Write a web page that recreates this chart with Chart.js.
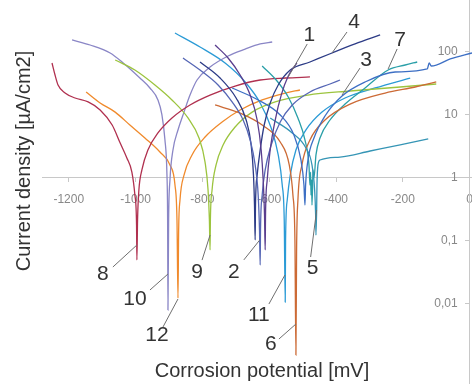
<!DOCTYPE html>
<html>
<head>
<meta charset="utf-8">
<script src="https://cdn.jsdelivr.net/npm/chart.js@4.4.1/dist/chart.umd.min.js"></script>
<style>
  html, body { margin: 0; padding: 0; background: #fff; overflow: hidden; }
  canvas { display: block; }
</style>
</head>
<body>
<canvas id="chart" width="472" height="384"></canvas>
<script>
// Potentiodynamic polarisation curves: [potential mV, current density µA/cm2]
const curve1  = [[-762,129],[-723,80.2],[-687,43.1],[-657,20.7],[-636,8.32],[-624,2.78],[-618,0.929],[-614,0.259],[-612,0.072],[-611,0.259],[-606,0.929],[-597,2.78],[-582,8.32],[-564,20.7],[-543,41.6],[-517,66.8]];
const curve2  = [[-858,80.2],[-807,51.7],[-753,29.9],[-711,16.1],[-678,8.32],[-657,4.01],[-642,1.61],[-633,0.537],[-629,0.149],[-627,0.0416],[-626,0.149],[-621,0.537],[-612,1.34],[-594,3.34],[-567,7.74],[-531,14.4],[-478,23.2],[-418,31.0],[-388,35.9]];
const curve3  = [[-711,26.8],[-633,17.3],[-567,10.0],[-526,4.81],[-505,1.93],[-496,0.774],[-493,0.372],[-491,0.774],[-484,1.93],[-466,4.31],[-433,9.63],[-382,20.0],[-313,33.4],[-223,48.1],[-127,53.7],[-121,66.8],[-115,59.9],[-58,77.4],[7,96.3]];
const curve4  = [[-807,69.3],[-747,38.6],[-699,18.6],[-669,8.32],[-654,3.34],[-647,1.11],[-644,0.372],[-642,0.104],[-641,0.372],[-636,1.11],[-627,2.78],[-615,6.93],[-597,15.5],[-573,29.9],[-537,51.7],[-478,69.3],[-412,96.3],[-343,134],[-268,186]];
const curve5  = [[-597,8.96],[-531,5.18],[-490,2.99],[-472,1.61],[-464,0.644],[-461,0.259],[-460,0.124],[-458,0.310],[-457,0.774],[-454,1.61],[-448,1.93],[-388,2.15],[-298,2.68],[-208,3.34],[-124,4.16]];
const curve6  = [[-762,14.4],[-687,10.7],[-621,6.93],[-567,3.72],[-540,1.61],[-529,0.537],[-523,0.104],[-520,0.00155],[-518,0.072],[-514,0.447],[-502,1.61],[-478,4.01],[-433,8.32],[-358,14.9],[-253,22.3],[-163,27.8],[-100,33.4]];
const curve7  = [[-621,59.9],[-579,35.9],[-543,19.3],[-514,8.96],[-493,4.01],[-481,1.61],[-478,0.774],[-476,1.24],[-475,0.537],[-473,0.929],[-472,0.372],[-470,0.774],[-469,1.34],[-466,1.0],[-460,2.32],[-448,4.31],[-418,8.32],[-373,14.9],[-313,26.8],[-244,51.7],[-193,62.1],[-157,69.3]];
const curve8  = [[-1250,66.8],[-1241,43.1],[-1232,29.9],[-1211,22.3],[-1181,18.6],[-1142,16.1],[-1106,12.0],[-1070,6.93],[-1046,3.59],[-1026,2.08],[-1011,1.24],[-1002,0.537],[-997,0.179],[-996,0.05],[-994,0.215],[-990,0.644],[-981,1.34],[-963,2.78],[-933,5.18],[-891,8.96],[-837,14.4],[-777,20.7],[-702,28.8],[-627,35.9],[-552,38.6],[-478,40.1]];
const curve9  = [[-1061,74.6],[-1002,51.7],[-942,29.9],[-891,17.3],[-843,8.96],[-810,4.31],[-792,1.79],[-783,0.644],[-779,0.215],[-777,0.072],[-776,0.215],[-771,0.644],[-759,1.61],[-738,3.34],[-702,6.44],[-651,11.1],[-582,16.1],[-484,20.7],[-358,24.0],[-208,27.8],[-100,31.0]];
const curve10 = [[-1190,155],[-1136,129],[-1076,96.3],[-1037,66.8],[-987,38.6],[-957,26.8],[-933,17.3],[-921,10.0],[-912,4.01],[-906,1.11],[-904,0.215],[-903,0.008],[-901,0.215],[-897,0.929],[-888,2.78],[-873,5.78],[-855,11.1],[-837,20.7],[-816,35.9],[-777,57.7],[-723,86.3],[-672,111],[-627,134],[-591,144]];
const curve11 = [[-882,200],[-807,120],[-732,66.8],[-672,33.4],[-627,15.5],[-594,6.21],[-573,2.32],[-561,0.774],[-555,0.215],[-552,0.0107],[-551,0.104],[-546,0.447],[-537,1.11],[-520,2.78],[-490,5.78],[-442,11.1],[-373,18.6],[-283,26.8],[-178,38.6]];
const curve12 = [[-1148,23.2],[-1106,15.5],[-1061,11.1],[-1017,6.93],[-972,4.31],[-927,2.58],[-897,1.61],[-882,0.774],[-876,0.215],[-873,0.0124],[-871,0.149],[-867,0.447],[-855,1.11],[-831,2.32],[-792,4.47],[-741,7.74],[-687,12.0],[-621,17.3],[-552,22.3],[-508,24.9]];

const curveNames = ['1','2','3','4','5','6','7','8','9','10','11','12'];
const curves = [curve1, curve2, curve3, curve4, curve5, curve6, curve7, curve8, curve9, curve10, curve11, curve12];

// Axis ticks
const xTickValues = [-1200, -1000, -800, -600, -400, -200, 0];
const xTickLabels = ['-1200', '-1000', '-800', '-600', '-400', '-200', '0'];
const yTickValues = [100, 10, 1, 0.1, 0.01];
const yTickLabels = ['100', '10', '1', '0,1', '0,01'];

// Curve numbers: the point on each curve the callout line points to
const calloutLabels    = ['1', '4', '3', '7', '8', '10', '12', '9', '2', '11', '6', '5'];
const calloutPotential = [-543, -412, -382, -244, -996, -903, -873, -777, -628, -553, -520, -458];
const calloutCurrent   = [40.1, 96.3, 20.7, 53.7, 0.0863, 0.0299, 0.012, 0.124, 0.104, 0.0288, 0.00481, 0.31];

// Styling
const curveColors = ['#5a3e8e', '#5566b5', '#3d6fc4', '#2c3b86', '#3595b5', '#cc6a35',
                     '#2a9fa8', '#b0304f', '#9cc43e', '#8a86c6', '#2b9bd6', '#f08a2c'];
// [text dx, text dy, line start dx, line start dy] relative to the callout point
const calloutOffsets = [
  [21, -42, 19, -33], [22, -31, 15, -21], [24, -35, 18, -27], [12, -29, 9, -20],
  [-34, 29, -24, 22], [-33, 25, -18, 16], [-21, 36, -15, 28], [-13, 37, -8, 25],
  [-26, 32, -16, 20], [-26, 40, -16, 29], [-25, 20, -17, 15], [-4, 58, -6, 47]
];

const FONT = '"Liberation Sans", Arial, sans-serif';
Chart.defaults.font.family = FONT;

const datasets = curves.map((c, k) => ({
  label: curveNames[k],
  data: c.map(([e, i]) => ({ x: e, y: i })),
  borderColor: curveColors[k],
  borderWidth: 1.3,
  pointRadius: 0,
  fill: false,
  cubicInterpolationMode: 'monotone'
}));

// axes cross inside the plot, so their label overhang must not shrink it
const noOverhang = s => { s.paddingLeft = 0; s.paddingRight = 0; s.paddingTop = 0; s.paddingBottom = 0; };

const overlay = {
  id: 'overlay',
  afterDatasetsDraw(chart) {
    const { ctx, scales: { x, y } } = chart;
    ctx.save();

    // current density labels, left of the vertical axis at 0 mV
    const axisX = x.getPixelForValue(0);
    ctx.fillStyle = '#888';
    ctx.font = '12px ' + FONT;
    ctx.textAlign = 'right';
    ctx.textBaseline = 'middle';
    yTickValues.forEach((v, k) => ctx.fillText(yTickLabels[k], axisX - 12, y.getPixelForValue(v)));

    calloutLabels.forEach((txt, k) => {
      const px = x.getPixelForValue(calloutPotential[k]);
      const py = y.getPixelForValue(calloutCurrent[k]);
      const [tx, ty, sx, sy] = calloutOffsets[k];
      ctx.strokeStyle = '#6f6f6f';
      ctx.lineWidth = 1;
      ctx.beginPath();
      ctx.moveTo(px + sx, py + sy);
      ctx.lineTo(px, py);
      ctx.stroke();
      ctx.fillStyle = '#333';
      ctx.font = '21px ' + FONT;
      ctx.textAlign = 'center';
      ctx.textBaseline = 'middle';
      ctx.fillText(txt, px + tx, py + ty);
    });

    // axis titles
    ctx.fillStyle = '#333';
    ctx.font = '20px ' + FONT;
    ctx.textAlign = 'center';
    ctx.textBaseline = 'alphabetic';
    ctx.fillText('Corrosion potential [mV]', 262, 377);
    ctx.translate(30, 161);
    ctx.rotate(-Math.PI / 2);
    ctx.fillText('Current density [µA/cm2]', 0, 0);
    ctx.restore();
  }
};

new Chart(document.getElementById('chart'), {
  type: 'line',
  data: { datasets },
  plugins: [overlay],
  options: {
    responsive: false,
    animation: false,
    layout: { padding: { left: 42, right: 0, top: 0, bottom: 0 } },
    plugins: { legend: { display: false }, tooltip: { enabled: false } },
    scales: {
      x: {
        type: 'linear', axis: 'x',
        min: -1280, max: 7,
        position: { y: 1 },
        grid: { drawOnChartArea: false, color: '#c8c8c8', tickLength: 4 },
        border: { color: '#c8c8c8' },
        afterBuildTicks: s => { s.ticks = xTickValues.map(v => ({ value: v })); },
        afterFit: noOverhang,
        ticks: {
          color: '#888', font: { size: 12 }, padding: 11, maxRotation: 0,
          callback: (v, idx) => xTickLabels[idx]
        }
      },
      y: {
        type: 'logarithmic', axis: 'y',
        min: 0.000537, max: 668,
        position: { x: 0 },
        grid: { drawOnChartArea: false, color: '#c8c8c8', tickLength: 4 },
        border: { color: '#c8c8c8' },
        afterBuildTicks: s => { s.ticks = yTickValues.map(v => ({ value: v })); },
        afterFit: noOverhang,
        ticks: { display: false }
      }
    }
  }
});
</script>
</body>
</html>
